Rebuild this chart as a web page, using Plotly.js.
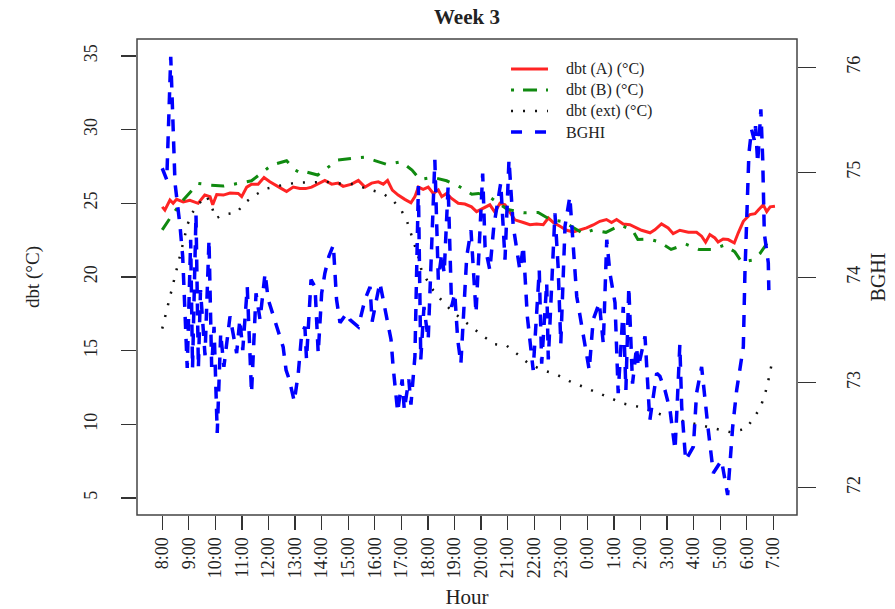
<!DOCTYPE html>
<html>
<head>
<meta charset="utf-8">
<script src="https://cdn.plot.ly/plotly-3.0.1.min.js"></script>
<style>html,body{margin:0;padding:0;background:#fff;}#chart{width:895px;height:609px;}</style>
</head>
<body>
<div id="chart"></div>
<script>
// Hour labels (index 0 = 8:00 ... 23 = 7:00)
const hourLabels = ["8:00","9:00","10:00","11:00","12:00","13:00","14:00","15:00","16:00","17:00","18:00","19:00","20:00","21:00","22:00","23:00","0:00","1:00","2:00","3:00","4:00","5:00","6:00","7:00"];

// dbt (A) (°C)
const hoursA = [0,0.1,0.29,0.41,0.54,0.79,1.04,1.35,1.6,1.8,1.9,2.05,2.3,2.55,2.86,2.99,3.18,3.36,3.61,3.83,4.05,4.3,4.49,4.68,4.93,5.18,5.4,5.62,5.87,6.12,6.38,6.62,6.81,7.13,7.38,7.63,7.88,8.13,8.32,8.48,8.66,8.88,9.13,9.36,9.51,9.64,9.82,10.01,10.2,10.39,10.52,10.7,10.89,11.14,11.39,11.64,11.83,12.08,12.33,12.52,12.71,12.9,13.09,13.27,13.59,13.84,14.09,14.34,14.53,14.72,14.97,15.22,15.47,15.72,15.97,16.22,16.47,16.72,16.91,17.1,17.35,17.6,17.85,18.04,18.36,18.54,18.79,19.04,19.23,19.48,19.8,20.11,20.3,20.45,20.61,20.8,20.92,21.11,21.3,21.53,21.68,21.87,22.12,22.31,22.46,22.62,22.75,22.88,23.06];
const dbtA = [24.76,24.54,25.22,25.0,25.27,25.1,25.2,25.0,25.56,25.45,24.9,25.6,25.56,25.7,25.67,25.45,26.1,26.3,26.3,26.75,26.46,26.17,26.0,25.8,26.1,26.0,26.0,26.1,26.3,26.55,26.3,26.37,26.15,26.3,26.55,26.1,26.37,26.46,26.3,26.55,25.9,25.56,25.27,25.04,25.45,26.1,25.94,26.1,25.67,25.9,25.45,25.67,25.33,25.0,24.95,24.76,24.44,24.67,24.9,24.4,25.0,24.9,24.33,23.88,23.7,23.55,23.6,23.55,24.0,23.7,23.44,23.17,23.06,23.17,23.33,23.53,23.78,23.9,23.7,23.9,23.6,23.55,23.33,23.17,23.0,23.2,23.6,23.33,22.94,23.17,23.04,23.04,22.77,22.36,22.88,22.65,22.38,22.58,22.54,22.31,23.0,23.78,24.24,24.3,24.6,24.9,24.44,24.76,24.8];

// dbt (B) (°C)
const hoursB = [0,0.41,0.79,1.15,1.35,1.8,2.3,2.7,3.36,3.8,4.12,4.68,5.0,5.25,5.4,5.85,6.3,6.6,7.13,7.6,8.0,8.45,9.0,9.4,9.7,10.2,10.7,11.2,11.65,11.9,12.3,13.0,13.6,14.15,14.6,15.1,15.85,16.2,16.7,17.25,17.7,17.9,18.2,18.36,18.7,19.15,19.7,20.2,20.7,21.15,21.55,21.8,22.2,22.5,22.8];
const dbtB = [23.2,24.31,25.22,25.9,26.35,26.24,26.17,26.3,26.53,27.14,27.6,27.89,27.26,27.03,27.14,26.92,27.53,27.93,28.05,28.12,27.9,27.64,27.82,27.26,26.62,26.76,26.53,26.12,25.62,25.67,25.45,24.58,24.36,24.38,23.9,23.75,22.95,23.18,23.03,23.52,23.18,22.55,22.57,22.55,22.39,21.87,22.23,21.87,21.87,22.16,21.71,21.03,21.14,21.6,22.39];

// dbt (ext) (°C)
const hoursExt = [0,0.96,1.13,1.39,1.67,1.86,2.02,2.3,2.8,3.09,3.49,3.93,4.53,5.06,5.6,6.17,6.67,7.24,7.73,8.28,8.7,9.01,9.22,9.36,9.51,9.64,9.74,9.95,10.2,10.52,10.89,11.64,12.08,12.52,12.94,13.34,13.77,14.28,14.82,15.32,15.85,16.35,16.88,17.38,17.92,18.54,19.05,19.65,20.24,20.8,21.39,21.96,22.25,22.5,22.66,22.78,22.87,22.96];
const dbtExt = [16.5,23.6,24.35,25.0,25.5,24.76,23.97,24.24,24.36,25.0,25.56,26.0,26.24,26.4,26.42,26.46,26.35,26.3,25.96,25.7,25.17,24.49,23.74,22.95,22.16,21.37,20.58,19.83,19.1,18.4,17.7,16.58,15.98,15.44,15.37,14.8,14.16,13.7,13.4,12.94,12.54,12.13,11.74,11.4,11.2,10.84,10.45,10.2,10.0,9.74,9.47,9.7,10.4,11.1,11.9,12.7,13.5,14.3];

// BGHI
const hoursG = [0,0.17,0.32,0.48,0.67,0.77,0.94,1.07,1.14,1.27,1.36,1.44,1.61,1.76,1.86,1.95,2.07,2.2,2.32,2.45,2.55,2.8,2.92,3.03,3.2,3.36,3.53,3.68,3.87,3.99,4.18,4.37,4.55,4.66,4.78,4.97,5.12,5.25,5.37,5.43,5.6,5.75,5.87,6.0,6.12,6.27,6.44,6.56,6.69,6.94,7.06,7.38,7.63,7.82,7.9,8.19,8.45,8.61,8.69,8.76,8.86,9.03,9.11,9.28,9.36,9.51,9.64,9.73,9.85,10.01,10.14,10.26,10.39,10.52,10.61,10.76,10.89,11.01,11.12,11.24,11.46,11.62,11.81,12.06,12.15,12.33,12.48,12.74,12.9,13.05,13.21,13.46,13.59,13.74,13.96,14.19,14.28,14.47,14.53,14.78,14.9,15.0,15.16,15.34,15.6,15.91,16.07,16.22,16.45,16.6,16.73,16.85,17.04,17.16,17.35,17.45,17.56,17.7,17.85,17.92,18.17,18.35,18.61,18.73,18.92,19.11,19.3,19.4,19.48,19.55,19.7,19.99,20.11,20.3,20.43,20.55,20.74,21.05,21.28,21.47,21.62,21.74,21.87,21.93,22.03,22.08,22.18,22.28,22.33,22.41,22.53,22.6,22.66,22.81,22.83];
const bghi = [75.04,74.93,76.10,74.9,74.49,74.2,73.14,74.36,73.14,74.6,73.14,73.88,73.26,74.36,73.15,73.53,72.52,73.47,73.15,73.44,73.63,73.28,73.6,73.31,73.91,72.9,73.85,73.6,74.04,73.79,73.63,73.47,73.34,73.12,73.03,72.82,73.09,73.47,73.53,73.22,73.98,73.91,73.28,73.85,74.04,74.2,74.31,73.79,73.57,73.66,73.6,73.53,73.79,73.91,73.58,73.95,73.63,73.41,73.15,72.95,72.72,73.03,72.74,73.03,72.79,73.25,74.87,73.22,73.72,73.41,74.42,75.12,73.98,74.23,74.04,74.87,73.72,73.85,73.41,73.18,74.2,74.45,73.66,74.99,74.29,74.07,74.49,74.9,74.17,75.12,74.49,74.07,74.3,73.63,73.12,74.07,73.18,73.95,73.22,74.61,74.1,73.37,74.49,74.77,73.82,73.34,73.12,73.6,73.76,73.37,74.36,74.04,73.76,72.9,73.72,72.93,73.91,72.99,73.34,73.15,73.44,72.64,73.09,73.06,72.93,72.74,72.36,72.9,73.36,72.77,72.26,72.39,72.9,73.15,72.8,72.55,72.14,72.26,71.93,72.58,72.93,73.12,73.34,74.04,74.74,75.18,75.41,75.31,75.44,75.09,75.6,75.12,74.42,74.14,73.88];

const leftTicks = [5,10,15,20,25,30,35];
const rightTicks = [72,73,74,75,76];

const seriesNames = ['dbt (A) (°C)', 'dbt (B) (°C)', 'dbt (ext) (°C)', 'BGHI'];
const seriesColors = ['#ff2424', '#108a10', '#111111', '#0000ff'];
const seriesWidths = [3, 3, 2.5, 3.5];
const seriesDash = ['solid', '13px,10px,3px,10px', '2px,10px', '12px,10px'];
const legendDash = ['solid', '3px,9px,14px,9px', '2px,10px', '11px,13px'];

const serif = '"Liberation Serif", "DejaVu Serif", serif';

const xs = [hoursA, hoursB, hoursExt, hoursG];
const ys = [dbtA, dbtB, dbtExt, bghi];
const traces = xs.map((x, i) => ({
  x: x, y: ys[i], name: seriesNames[i], type: 'scatter', mode: 'lines',
  line: {color: seriesColors[i], width: seriesWidths[i], dash: seriesDash[i]},
  yaxis: i === 3 ? 'y2' : 'y', showlegend: false
}));

// Borderless key in the top-right of the plot, as in the original
const legX0 = 0.5667, legX1 = 0.6227, legTextX = 0.648;
const legRowY = [0.937, 0.8929, 0.8487, 0.8046];
const legendShapes = seriesNames.map((n, i) => ({
  type: 'line', xref: 'paper', yref: 'paper', x0: legX0, x1: legX1, y0: legRowY[i], y1: legRowY[i],
  line: {color: seriesColors[i], width: seriesWidths[i], dash: legendDash[i]}
}));
const legendText = seriesNames.map((n, i) => ({
  text: n, xref: 'paper', yref: 'paper', x: legTextX, y: legRowY[i], xanchor: 'left', yanchor: 'middle',
  showarrow: false, borderpad: 0, font: {family: serif, size: 16, color: '#222'}
}));

const axisCommon = {
  showgrid: false, zeroline: false, showline: false,
  ticks: 'outside', tickcolor: '#333', tickwidth: 1.3,
  tickfont: {family: serif, size: 18, color: '#222'}
};

const layout = {
  width: 895, height: 609,
  margin: {l: 137, r: 98, t: 39, b: 94},
  paper_bgcolor: '#fff', plot_bgcolor: '#fff',
  font: {family: serif, color: '#222', size: 18},
  title: {text: '<b>Week 3</b>', font: {family: serif, size: 21, color: '#222'},
          x: 0.5, xref: 'paper', y: 0.972, yref: 'container', yanchor: 'middle'},
  showlegend: false,
  xaxis: Object.assign({}, axisCommon, {
    range: [-0.95, 23.89], tickmode: 'array',
    tickvals: hourLabels.map((_, i) => i), ticktext: hourLabels,
    tickangle: -90, ticklen: 14,
    title: {text: 'Hour', font: {family: serif, size: 21, color: '#222'}, standoff: 13}
  }),
  yaxis: Object.assign({}, axisCommon, {
    range: [3.85, 36.15], tickmode: 'array', tickvals: leftTicks,
    tickangle: -90, ticklen: 15, ticklabelstandoff: 17,
    title: {text: 'dbt (°C)', font: {family: serif, size: 19, color: '#222'}, standoff: 36}
  }),
  yaxis2: Object.assign({}, axisCommon, {
    overlaying: 'y', side: 'right',
    range: [71.74, 76.27], tickmode: 'array', tickvals: rightTicks,
    tickangle: -90, ticklen: 18, ticklabelstandoff: 22,
    title: {text: 'BGHI', font: {family: serif, size: 20, color: '#222'}, standoff: 8}
  }),
  shapes: [{type: 'rect', xref: 'paper', yref: 'paper', x0: 0, x1: 1, y0: 0, y1: 1,
            line: {color: '#444', width: 1.5}, fillcolor: 'rgba(0,0,0,0)'}].concat(legendShapes),
  annotations: legendText
};

Plotly.newPlot('chart', traces, layout, {displayModeBar: false, staticPlot: true});
</script>
</body>
</html>
